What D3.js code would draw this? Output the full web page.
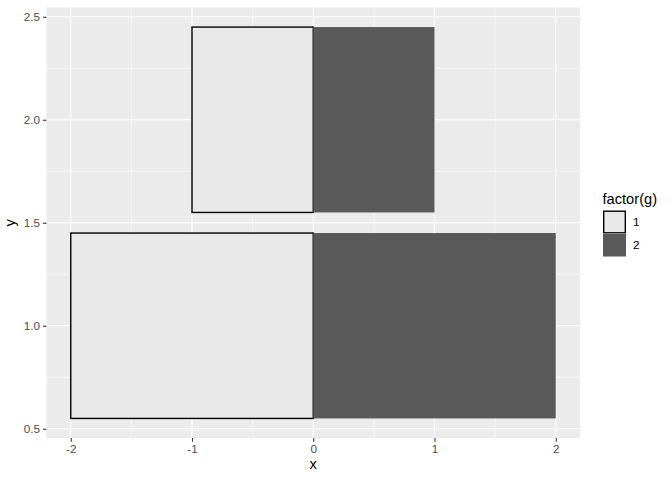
<!DOCTYPE html>
<html><head><meta charset="utf-8">
<script src="https://cdn.jsdelivr.net/npm/d3@7"></script>
<style>body{margin:0;background:#fff}</style>
</head><body>
<script>
const xmin = [-2, 0, -1, 0];
const xmax = [0, 2, 0, 1];
const ymin = [0.55, 0.55, 1.55, 1.55];
const ymax = [1.45, 1.45, 2.45, 2.45];
const groups = ["1", "2", "1", "2"];
const xTicks = [-2, -1, 0, 1, 2];
const yTicks = [0.5, 1.0, 1.5, 2.0, 2.5];
const legendLabels = ["1", "2"];

const W = 672, H = 480;
const svg = d3.select("body").append("svg").attr("width", W).attr("height", H);
const panel = {l: 46.5, r: 580, t: 7.5, b: 438};
const x = d3.scaleLinear().domain([-2.2, 2.2]).range([panel.l, panel.r]);
const y = d3.scaleLinear().domain([0.455, 2.545]).range([panel.b, panel.t]);
const fill = d3.scaleOrdinal().domain(legendLabels).range(["#E9E9E9", "#595959"]);
const font = "Liberation Sans, Arial, sans-serif";

svg.append("rect").attr("x", panel.l).attr("y", panel.t).attr("width", panel.r - panel.l).attr("height", panel.b - panel.t).attr("fill", "#EBEBEB");
// minor grid
const xMinor = [-1.5, -0.5, 0.5, 1.5];
const yMinor = [0.75, 1.25, 1.75, 2.25];
svg.selectAll(".xm").data(xMinor).enter().append("line").attr("x1", d => x(d)).attr("x2", d => x(d)).attr("y1", panel.t).attr("y2", panel.b).attr("stroke", "#fff").attr("stroke-width", 0.53);
svg.selectAll(".ym").data(yMinor).enter().append("line").attr("y1", d => y(d)).attr("y2", d => y(d)).attr("x1", panel.l).attr("x2", panel.r).attr("stroke", "#fff").attr("stroke-width", 0.53);
svg.selectAll(".xg").data(xTicks).enter().append("line").attr("x1", d => x(d)).attr("x2", d => x(d)).attr("y1", panel.t).attr("y2", panel.b).attr("stroke", "#fff").attr("stroke-width", 1.07);
svg.selectAll(".yg").data(yTicks).enter().append("line").attr("y1", d => y(d)).attr("y2", d => y(d)).attr("x1", panel.l).attr("x2", panel.r).attr("stroke", "#fff").attr("stroke-width", 1.07);

const data = xmin.map((d, i) => ({x0: d, x1: xmax[i], y0: ymin[i], y1: ymax[i], g: groups[i]}));
svg.selectAll(".bar").data(data).enter().append("rect")
  .attr("x", d => x(d.x0)).attr("y", d => y(d.y1))
  .attr("width", d => x(d.x1) - x(d.x0)).attr("height", d => y(d.y0) - y(d.y1))
  .attr("fill", d => fill(d.g))
  .attr("stroke", d => d.g === "1" ? "#000" : "none").attr("stroke-width", 1.4);

// axes
const xAxis = svg.append("g").attr("transform", `translate(0,${panel.b})`)
  .call(d3.axisBottom(x).tickValues(xTicks).tickSize(3.67).tickPadding(2.9).tickFormat(d => String(d)));
const yAxis = svg.append("g").attr("transform", `translate(${panel.l},0)`)
  .call(d3.axisLeft(y).tickValues(yTicks).tickSize(3.67).tickPadding(2.9).tickFormat(d => d.toFixed(1)));
[xAxis, yAxis].forEach(a => {
  a.select(".domain").remove();
  a.selectAll(".tick line").attr("stroke", "#333").attr("stroke-width", 1.07);
  a.selectAll("text").attr("fill", "#4D4D4D").attr("font-size", "11.7px").attr("font-family", font);
});

svg.append("text").attr("x", (panel.l + panel.r) / 2).attr("y", 469).attr("text-anchor", "middle")
  .attr("font-size", "14.67px").attr("font-family", font).attr("fill", "#000").text("x");
svg.append("text").attr("transform", `translate(14.5,${(panel.t + panel.b) / 2}) rotate(-90)`).attr("text-anchor", "middle")
  .attr("font-size", "14.67px").attr("font-family", font).attr("fill", "#000").text("y");

// legend
const lg = svg.append("g");
lg.append("text").attr("x", 602.5).attr("y", 204).attr("font-size", "14.67px").attr("font-family", font).text("factor(g)");
const keys = lg.selectAll(".key").data(legendLabels).enter().append("g")
  .attr("transform", (d, i) => `translate(603,${210.5 + i * 23})`);
keys.append("rect").attr("width", 23).attr("height", 23).attr("fill", "#F2F2F2");
keys.append("rect").attr("x", d => d === "1" ? 0.7 : 0).attr("y", d => d === "1" ? 0.7 : 0)
  .attr("width", d => d === "1" ? 21.6 : 23).attr("height", d => d === "1" ? 21.6 : 23)
  .attr("fill", d => fill(d)).attr("stroke", d => d === "1" ? "#000" : "none").attr("stroke-width", 1.4);
keys.append("text").attr("x", 30).attr("y", 15.7).attr("font-size", "11.7px").attr("font-family", font).attr("fill", "#000").text(d => d);
</script>
</body></html>
